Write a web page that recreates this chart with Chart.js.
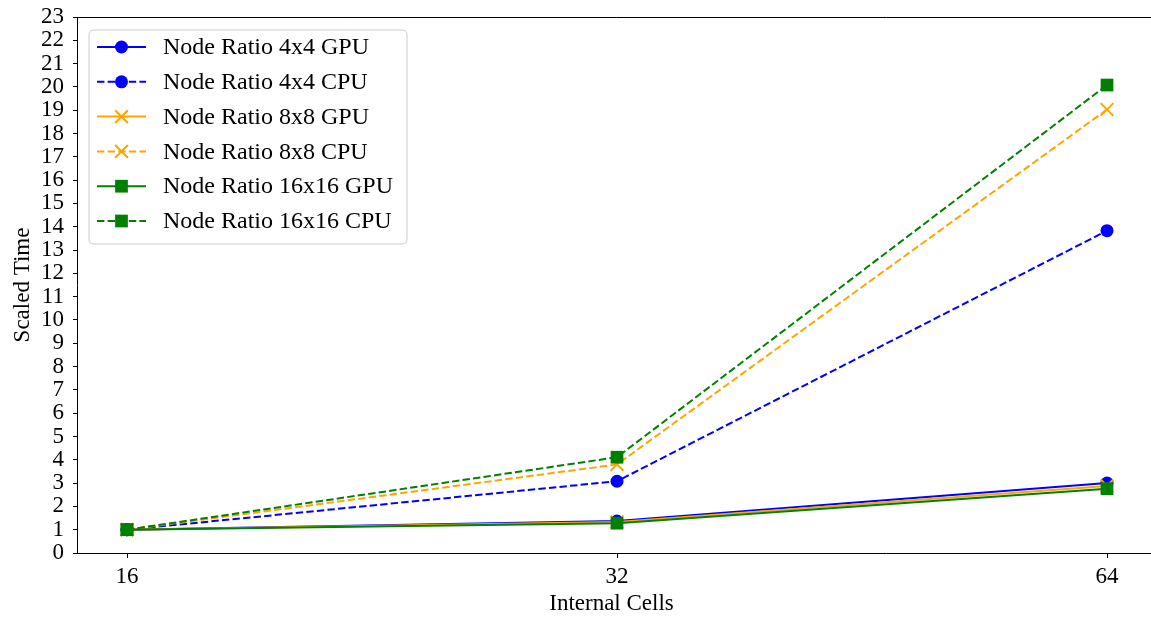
<!DOCTYPE html>
<html><head><meta charset="utf-8">
<script src="https://cdn.jsdelivr.net/npm/chart.js@4"></script>
<style>html,body{margin:0;padding:0;overflow:hidden;background:#fff}#wrap{width:1160px;height:618px}</style>
</head><body><div id="wrap"><canvas id="c" width="1156" height="618"></canvas></div>
<script>
const categories = ['16', '32', '64'];
const gpu4 = [1, 1.37, 3.0];
const cpu4 = [1, 3.08, 13.83];
const gpu8 = [1, 1.33, 2.88];
const cpu8 = [1, 3.8, 19.03];
const gpu16 = [1, 1.28, 2.76];
const cpu16 = [1, 4.11, 20.08];
const seriesLabels = ['Node Ratio 4x4 GPU','Node Ratio 4x4 CPU','Node Ratio 8x8 GPU','Node Ratio 8x8 CPU','Node Ratio 16x16 GPU','Node Ratio 16x16 CPU'];
const yTicks = [0,1,2,3,4,5,6,7,8,9,10,11,12,13,14,15,16,17,18,19,20,21,22,23];

const FONT = '"Liberation Serif", serif';
const FS = 23;
const DASH = [7.4, 3.2];
const series = [gpu4, cpu4, gpu8, cpu8, gpu16, cpu16];
const colors = ['#0000ff','#0000ff','#ffa500','#ffa500','#008000','#008000'];
const styles = ['circle','circle','crossRot','crossRot','rect','rect'];
const radii = [6.5, 6.5, 9, 9, 9, 9];

const datasets = series.map((vals, i) => ({
  label: seriesLabels[i],
  data: vals.map((v, j) => ({x: j, y: v})),
  borderColor: colors[i],
  backgroundColor: colors[i],
  borderWidth: 2,
  borderDash: i % 2 ? DASH : [],
  pointStyle: styles[i],
  pointRadius: radii[i],
  pointBorderWidth: styles[i] === 'crossRot' ? 2 : 0,
  pointHoverRadius: radii[i],
  tension: 0,
  order: 5 - i
}));

const framePlugin = {
  id: 'frame',
  afterDraw(chart) {
    const ctx = chart.ctx, a = chart.chartArea, W = chart.width;
    const L = Math.round(a.left) - 0.5, T = Math.round(a.top) + 0.5, B = Math.round(a.bottom) + 0.5;
    ctx.save();
    ctx.strokeStyle = '#000'; ctx.lineWidth = 1;
    ctx.beginPath();
    ctx.moveTo(L, T); ctx.lineTo(W, T);
    ctx.moveTo(L, B); ctx.lineTo(W, B);
    ctx.moveTo(L, T); ctx.lineTo(L, B);
    ctx.stroke();
    const bx = a.left + 11, by = a.top + 13, bw = 318, bh = 214, r = 5;
    ctx.beginPath();
    ctx.moveTo(bx + r, by); ctx.lineTo(bx + bw - r, by); ctx.quadraticCurveTo(bx + bw, by, bx + bw, by + r);
    ctx.lineTo(bx + bw, by + bh - r); ctx.quadraticCurveTo(bx + bw, by + bh, bx + bw - r, by + bh);
    ctx.lineTo(bx + r, by + bh); ctx.quadraticCurveTo(bx, by + bh, bx, by + bh - r);
    ctx.lineTo(bx, by + r); ctx.quadraticCurveTo(bx, by, bx + r, by);
    ctx.closePath();
    ctx.fillStyle = 'rgba(255,255,255,0.8)'; ctx.fill();
    ctx.strokeStyle = '#cccccc'; ctx.lineWidth = 1; ctx.stroke();
    chart.data.datasets.forEach((ds, i) => {
      const y = by + 17 + i * 34.8;
      const mx = bx + 32.5;
      ctx.strokeStyle = ds.borderColor; ctx.lineWidth = 2;
      ctx.setLineDash(ds.borderDash);
      ctx.beginPath(); ctx.moveTo(bx + 8, y); ctx.lineTo(bx + 57, y); ctx.stroke();
      ctx.setLineDash([]);
      ctx.fillStyle = ds.borderColor;
      ctx.strokeStyle = ds.borderColor;
      ctx.beginPath();
      if (ds.pointStyle === 'circle') { ctx.arc(mx, y, ds.pointRadius, 0, Math.PI*2); ctx.fill(); }
      else if (ds.pointStyle === 'rect') { const s = ds.pointRadius * Math.SQRT1_2; ctx.fillRect(mx - s, y - s, 2*s, 2*s); }
      else { const o = ds.pointRadius * Math.SQRT1_2; ctx.lineWidth = 2; ctx.moveTo(mx-o, y-o); ctx.lineTo(mx+o, y+o); ctx.moveTo(mx-o, y+o); ctx.lineTo(mx+o, y-o); ctx.stroke(); }
      ctx.fillStyle = '#000'; ctx.font = '24px ' + FONT; ctx.textBaseline = 'middle'; ctx.textAlign = 'left';
      ctx.fillText(ds.label, bx + 74, y + 1);
    });
    ctx.restore();
  }
};

const chart = new Chart(document.getElementById('c'), {
  type: 'line',
  data: { datasets },
  options: {
    responsive: false, animation: false,
    layout: { padding: { top: 17, left: 0, right: 0, bottom: 0 } },
    plugins: { legend: { display: false }, tooltip: { enabled: false } },
    scales: {
      x: {
        type: 'linear', min: -0.1, max: 2.1,
        afterBuildTicks: s => { s.ticks = categories.map((c, i) => ({value: i})); },
        afterFit: s => { s.height = 65; s.paddingLeft = 0; s.paddingRight = 0; },
        ticks: { callback: v => categories[v], color: '#000', font: { family: FONT, size: FS }, padding: 5, maxRotation: 0, autoSkip: false },
        grid: { drawOnChartArea: false, drawTicks: true, tickLength: 5, color: '#000', tickWidth: 1 },
        border: { display: false },
        title: { display: true, text: 'Internal Cells', color: '#000', font: { family: FONT, size: FS }, padding: { top: 4, bottom: 0 } }
      },
      y: {
        type: 'linear', min: 0, max: 23,
        afterBuildTicks: s => { s.ticks = yTicks.map(v => ({value: v})); },
        afterFit: s => { s.width = 78; s.paddingTop = 0; s.paddingBottom = 0; },
        ticks: { color: '#000', font: { family: FONT, size: FS }, padding: 9, autoSkip: false },
        grid: { drawOnChartArea: false, drawTicks: true, tickLength: 5, color: '#000', tickWidth: 1 },
        border: { display: false },
        title: { display: true, text: 'Scaled Time', color: '#000', font: { family: FONT, size: FS }, padding: { top: 9, bottom: 0 } }
      }
    }
  },
  plugins: [framePlugin]
});
// keep 490 px per category step starting 49 px inside the left spine, whatever width the layout leaves
for (let k = 0; k < 3; k++) {
  const a = chart.chartArea;
  const want = -0.1 + (a.right - a.left) / 490;
  if (Math.abs(want - chart.options.scales.x.max) < 1e-4) break;
  chart.options.scales.x.max = want;
  chart.update('none');
}
</script></body></html>
